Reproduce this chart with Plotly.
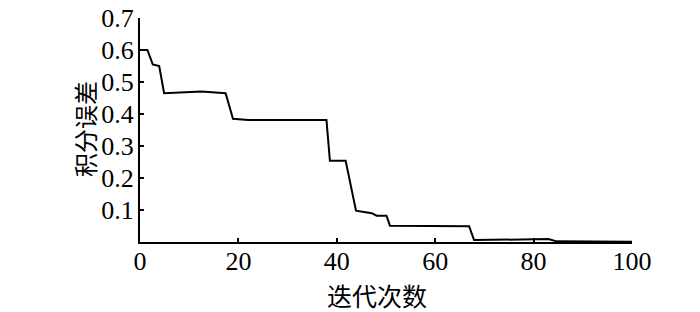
import plotly.graph_objects as go

iterations = [0, 1.5, 2.6, 3.9, 4.9, 12.5, 17.4, 18.9, 22, 37.9, 38.6, 41.8, 43.9, 47.1, 48.1, 50.1, 50.8, 66.9, 67.9, 75, 80, 83, 84.7, 100]
errors = [0.6, 0.6, 0.555, 0.55, 0.465, 0.47, 0.465, 0.385, 0.381, 0.381, 0.254, 0.254, 0.098, 0.09, 0.082, 0.082, 0.051, 0.049, 0.006, 0.007, 0.008, 0.009, 0.002, 0.001]
x_ticks = [0, 20, 40, 60, 80, 100]
y_ticks = [0.1, 0.2, 0.3, 0.4, 0.5, 0.6, 0.7]
x_title = "迭代次数"
y_title = "积分误差"

fig = go.Figure(go.Scatter(x=iterations, y=errors, mode="lines",
                           line=dict(color="black", width=2)))

tick_font = dict(family="Liberation Serif, Times New Roman, serif", size=26, color="black")
title_font = dict(family="Noto Sans CJK SC, sans-serif", size=25, color="black")

plot_h = 304 - 10 - 70
# page body has an 8px default margin, so the figure is slightly smaller
fig.update_layout(
    width=692, height=304,
    margin=dict(l=132, r=68, t=10, b=70),
    paper_bgcolor="white", plot_bgcolor="white",
    showlegend=False,
    xaxis=dict(range=[0, 100], tickvals=x_ticks, ticktext=[str(v) for v in x_ticks],
               showgrid=False, zeroline=False, showline=True, linecolor="black", linewidth=2,
               ticks="inside", ticklen=4, tickcolor="black", tickwidth=1.5,
               tickfont=tick_font, automargin=False, ticklabelstandoff=-5,
               ticklabeloverflow="allow"),
    yaxis=dict(range=[0, 0.7], tickvals=y_ticks, ticktext=[f"{v:.1f}" for v in y_ticks],
               showgrid=False, zeroline=False, showline=True, linecolor="black", linewidth=2,
               ticks="inside", ticklen=4, tickcolor="black", tickwidth=1.5,
               tickfont=tick_font, automargin=False, ticklabelstandoff=-1,
               ticklabeloverflow="allow"),
    annotations=[
        dict(text=x_title, xref="paper", yref="paper", x=(377 - 140) / 492, y=-(295 - 242) / plot_h,
             xanchor="center", yanchor="middle", showarrow=False, font=title_font),
        dict(text=y_title, xref="paper", yref="paper", x=-(140 - 84) / 492, y=(242 - 129) / plot_h,
             xanchor="center", yanchor="middle", showarrow=False, font=dict(title_font, size=24),
             textangle=-90),
    ],
)

fig.write_html("out.html")
